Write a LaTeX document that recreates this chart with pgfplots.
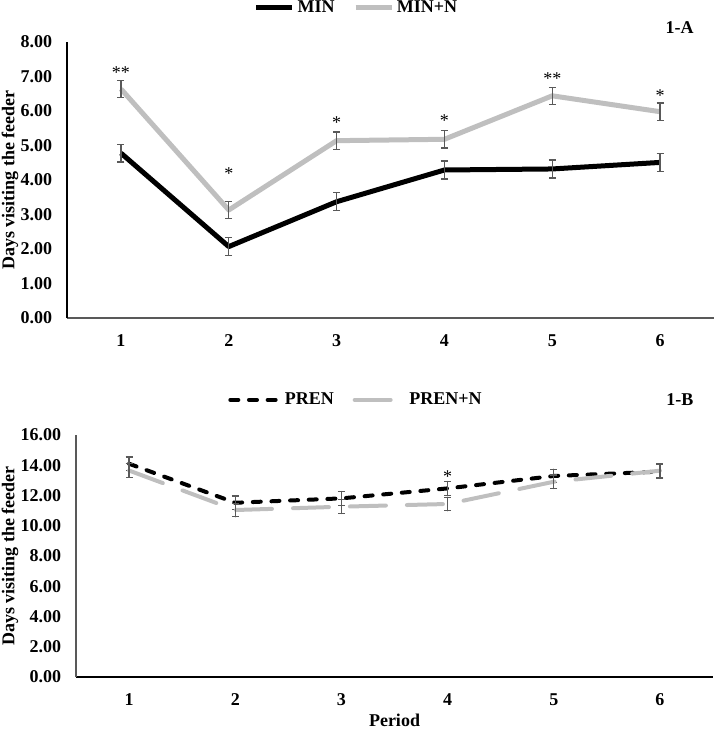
\documentclass[border=0pt]{standalone}
\usepackage{pgfplots}
\pgfplotsset{compat=1.18}
\usepackage{fontspec}
\setmainfont{Liberation Serif}

\definecolor{lightgrey}{HTML}{BFBFBF}
\definecolor{errgrey}{HTML}{595959}
\newcommand{\bigfont}{\fontsize{13.5}{16}\selectfont}

\pgfplotsset{
  feeder/.style={
    scale only axis,
    clip=false,
    font=\bigfont,
    axis x line*=bottom,
    axis y line*=left,
    xmin=0.5, xmax=6.5,
    xtick={1,...,6},
    major tick length=0pt,
    tick label style={font=\bigfont\bfseries, inner sep=0pt},
    yticklabel style={/pgf/number format/.cd, fixed, fixed zerofill, precision=2, /tikz/.cd, xshift=-11pt},
    xticklabel style={yshift=-12pt},
    /pgf/number format/assume math mode=true,
    label style={font=\bigfont\bfseries},
    error bars/y dir=both,
    error bars/y explicit,
    error bars/error bar style={line width=0.9pt, color=errgrey, solid},
    error bars/error mark options={rotate=90, mark size=2.6pt, line width=0.9pt, color=errgrey, solid},
    legend style={draw=none, fill=none, legend columns=-1, font=\bigfont\bfseries,
      inner sep=0pt,
      /tikz/every even column/.append style={column sep=12pt}},
  },
  stars/.style={forget plot, draw=none, mark=none, nodes near coords,
    point meta=explicit symbolic,
    nodes near coords style={anchor=center, font=\bigfont, inner sep=0pt}},
}

\begin{document}
\begin{tikzpicture}
\useasboundingbox (0,0) rectangle (535.5pt,-547.5pt);

% 1-A
\begin{axis}[feeder,
  at={(50.25pt,-238.5pt)}, anchor=south west,
  width=485.25pt, height=207pt,
  ymin=0, ymax=8, ytick={0,1,...,8},
  x axis line style={-, color=errgrey, line width=1.1pt},
  y axis line style={-, color=black, line width=0.8pt},
  ylabel={Days visiting the feeder},
  ylabel style={at={(axis description cs:-0.0881,0.5)}, anchor=center},
  legend style={at={(0.448,1.125)}, anchor=center},
  legend image code/.code={\draw[#1] (0pt,0pt) -- (27pt,0pt);},
]
\addplot[black, line width=3.75pt, line join=round] coordinates {
  (1,4.78) +- (0,0.26)
  (2,2.07) +- (0,0.26)
  (3,3.37) +- (0,0.26)
  (4,4.29) +- (0,0.26)
  (5,4.32) +- (0,0.26)
  (6,4.51) +- (0,0.26)
};
\addplot[lightgrey, line width=3.75pt, line join=round] coordinates {
  (1,6.64) +- (0,0.25)
  (2,3.13) +- (0,0.25)
  (3,5.14) +- (0,0.25)
  (4,5.18) +- (0,0.25)
  (5,6.44) +- (0,0.25)
  (6,5.98) +- (0,0.25)
};
\legend{MIN, MIN+N}
\addplot[stars] coordinates {
  (1,7.10) [**]
  (2,4.18) [*]
  (3,5.66) [*]
  (4,5.72) [*]
  (5,6.93) [**]
  (6,6.44) [*]
};
\node[font=\bigfont\bfseries] at (axis description cs:0.947,1.054) {1-A};
\end{axis}

% 1-B
\begin{axis}[feeder,
  at={(57pt,-507.75pt)}, anchor=south west,
  width=477.75pt, height=181.5pt,
  ymin=0, ymax=16, ytick={0,2,...,16},
  x axis line style={-, color=black, line width=1.1pt},
  y axis line style={-, color=errgrey, line width=1.1pt},
  ylabel={Days visiting the feeder},
  ylabel style={at={(axis description cs:-0.1036,0.5)}, anchor=center},
  xlabel={Period},
  xlabel style={at={(axis description cs:0.5,-0.1777)}, anchor=center},
  legend style={at={(0.44,1.145)}, anchor=center},
  legend image code/.code={\draw[#1] (0pt,0pt) -- (37.5pt,0pt);},
]
\addplot[black, line width=3pt, line cap=round, dash pattern=on 6pt off 8pt] coordinates {
  (1,14.10) +- (0,0.45)
  (2,11.52) +- (0,0.45)
  (3,11.81) +- (0,0.45)
  (4,12.47) +- (0,0.45)
  (5,13.29) +- (0,0.45)
  (6,13.58) +- (0,0.45)
};
\addplot[lightgrey, line width=3pt, line cap=round, dash pattern=on 27pt off 15.75pt] coordinates {
  (1,13.65) +- (0,0.45)
  (2,11.04) +- (0,0.45)
  (3,11.26) +- (0,0.45)
  (4,11.44) +- (0,0.45)
  (5,12.91) +- (0,0.45)
  (6,13.64) +- (0,0.45)
};
\legend{PREN, PREN+N}
\addplot[stars] coordinates {
  (4,13.22) [*]
};
\node[font=\bigfont\bfseries] at (axis description cs:0.948,1.145) {1-B};
\end{axis}
\end{tikzpicture}
\end{document}
